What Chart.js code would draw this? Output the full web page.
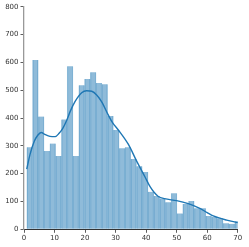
<!DOCTYPE html>
<html>
<head>
<meta charset="utf-8">
<script src="https://cdn.jsdelivr.net/npm/chart.js@4.4.1/dist/chart.umd.min.js"></script>
<style>
  html, body { margin: 0; padding: 0; background: #fff; }
  canvas { display: block; }
</style>
</head>
<body>
<canvas id="chart" width="249" height="247"></canvas>
<script>
// histogram bins (first edge + width) and counts
const binStart = 0.9;
const binWidth = 1.892;
const counts = [
  295, 608, 405, 281, 308, 263, 395, 586, 263, 518,
  540, 564, 526, 521, 407, 357, 291, 295, 253, 227,
  206, 135, 120, 111, 97, 130, 57, 91, 102, 76,
  76, 48, 44, 40, 22, 20, 29
];

// kde curve (scaled to counts)
const kdeX = [0.9, 2.0, 3.4, 4.5, 5.6, 7.0, 8.5, 10.2, 11.5, 12.7, 14.0, 15.1, 16.7, 18.9, 20.5,
  22.2, 23.8, 25.4, 27.6, 29.0, 30.9, 34.2, 36.9, 39.6, 41.3, 42.6, 44.0, 46.0, 50.0,
  53.8, 57.6, 60.0, 62.0, 66.4, 70.2];
const kdeY = [216, 270, 317, 338, 348, 340, 334, 333, 345, 363, 392, 423, 459, 491, 498,
  496, 483, 459, 411, 383, 357, 305, 245, 189, 153, 133, 118, 110, 103,
  92, 75, 60, 48, 33, 24];

const xTicks = [0, 10, 20, 30, 40, 50, 60, 70];
const yTicks = [0, 100, 200, 300, 400, 500, 600, 700, 800];

const tickFont = { size: 7, family: "DejaVu Sans" };

new Chart(document.getElementById("chart"), {
  type: "bar",
  data: {
    datasets: [
      {
        type: "line",
        data: kdeX.map((x, i) => ({ x: x, y: kdeY[i] })),
        borderColor: "#1f77b4",
        borderWidth: 1.4,
        pointRadius: 0,
        cubicInterpolationMode: "monotone",
        order: 0,
      },
      {
        data: counts.map((c, i) => ({ x: binStart + binWidth * (i + 0.5), y: c })),
        backgroundColor: "rgba(31,119,180,0.5)",
        borderColor: "rgba(31,119,180,0.35)",
        borderWidth: { left: 0.6, right: 0.6, top: 0, bottom: 0 },
        barPercentage: 1,
        categoryPercentage: 1,
        order: 1,
      },
    ],
  },
  options: {
    responsive: false,
    animation: false,
    devicePixelRatio: 1,
    layout: { padding: { left: 0, top: 6.7, right: 11.3, bottom: 0 } },
    plugins: { legend: { display: false }, tooltip: { enabled: false } },
    scales: {
      x: {
        type: "linear",
        offset: false,
        min: 0,
        max: 70,
        afterBuildTicks: (s) => { s.ticks = xTicks.map((v) => ({ value: v })); },
        ticks: { color: "#333", font: tickFont, padding: 1, maxRotation: 0 },
        grid: { drawOnChartArea: false, tickLength: 3.5, color: "#333", tickWidth: 0.8, offset: false },
        border: { color: "#333", width: 1 },
        afterFit: (s) => { s.height = 17.7; },
      },
      y: {
        min: 0,
        max: 800,
        afterBuildTicks: (s) => { s.ticks = yTicks.map((v) => ({ value: v })); },
        ticks: { color: "#333", font: tickFont, padding: 2 },
        grid: { drawOnChartArea: false, tickLength: 3.5, color: "#333", tickWidth: 0.8 },
        border: { color: "#999", width: 1.3 },
        afterFit: (s) => { s.width = 24; },
      },
    },
  },
});
</script>
</body>
</html>
